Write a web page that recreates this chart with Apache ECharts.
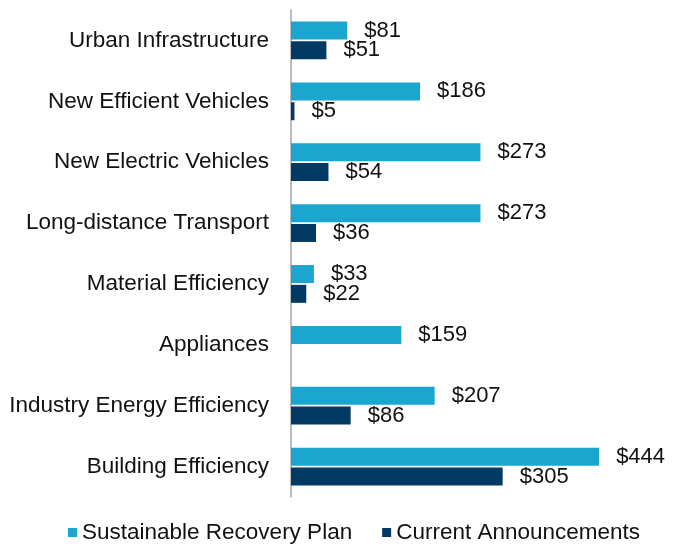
<!DOCTYPE html>
<html>
<head>
<meta charset="utf-8">
<script src="https://cdn.jsdelivr.net/npm/echarts@6/dist/echarts.min.js"></script>
<style>html,body{margin:0;padding:0;background:#fff}#c{width:682px;height:545px}</style>
</head>
<body>
<div id="c"></div>
<script>
const categories = ["Urban Infrastructure","New Efficient Vehicles","New Electric Vehicles","Long-distance Transport","Material Efficiency","Appliances","Industry Energy Efficiency","Building Efficiency"];
const seriesNames = ["Sustainable Recovery Plan","Current Announcements"];
const sustainable = [81,186,273,273,33,159,207,444];
const current = [51,5,54,36,22,null,86,305];

const font = "Liberation Sans";
const chart = echarts.init(document.getElementById('c'));
const lbl = {show:true, position:'right', distance:17, color:'#111', fontSize:22, fontFamily:font,
  formatter: p => (p.value==null ? '' : '$' + p.value)};
chart.setOption({
  animation:false,
  grid:{left:291, top:10, width:347, height:487},
  legend:{top:516, left:63, itemWidth:9, itemHeight:9, itemGap:30, icon:'rect',
    textStyle:{fontSize:22.5, fontFamily:font, color:'#111'}},
  xAxis:{type:'value', min:0, max:500, show:false, splitLine:{show:false}},
  yAxis:{type:'category', data:categories, inverse:true,
    axisLine:{show:true, lineStyle:{color:'#a6a6a6', width:1.5}},
    axisTick:{show:false},
    axisLabel:{fontSize:22.5, fontFamily:font, color:'#111', margin:22}},
  series:[
    {name:seriesNames[0], type:'bar', data:sustainable, barWidth:18, barGap:'10%', itemStyle:{color:'#1ba6cf'}, label:lbl},
    {name:seriesNames[1], type:'bar', data:current, barWidth:18, barGap:'10%', itemStyle:{color:'#033a64'}, label:lbl}
  ]
});
</script>
</body>
</html>
